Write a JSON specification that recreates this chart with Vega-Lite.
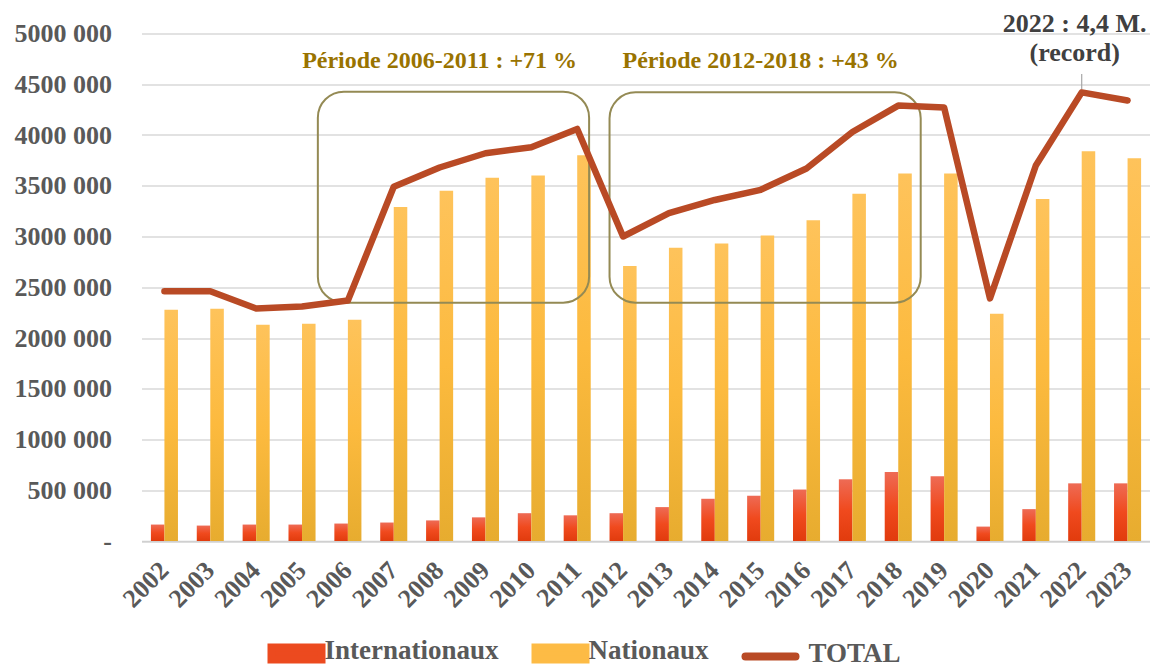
{
  "$schema": "https://vega.github.io/schema/vega-lite/v6.json",
  "width": 1009,
  "height": 507.5,
  "autosize": {"type": "none"},
  "padding": {"left": 141.5, "top": 33.5, "right": 0, "bottom": 125},
  "background": "white",
  "config": {
    "view": {"stroke": null},
    "font": "Liberation Serif"
  },
  "datasets": {
    "trafic": [
      {"annee": "2002", "serie": "Internationaux", "valeur": 162000},
      {"annee": "2003", "serie": "Internationaux", "valeur": 152000},
      {"annee": "2004", "serie": "Internationaux", "valeur": 162000},
      {"annee": "2005", "serie": "Internationaux", "valeur": 162000},
      {"annee": "2006", "serie": "Internationaux", "valeur": 172000},
      {"annee": "2007", "serie": "Internationaux", "valeur": 182000},
      {"annee": "2008", "serie": "Internationaux", "valeur": 203000},
      {"annee": "2009", "serie": "Internationaux", "valeur": 233000},
      {"annee": "2010", "serie": "Internationaux", "valeur": 274000},
      {"annee": "2011", "serie": "Internationaux", "valeur": 253000},
      {"annee": "2012", "serie": "Internationaux", "valeur": 274000},
      {"annee": "2013", "serie": "Internationaux", "valeur": 334000},
      {"annee": "2014", "serie": "Internationaux", "valeur": 416000},
      {"annee": "2015", "serie": "Internationaux", "valeur": 446000},
      {"annee": "2016", "serie": "Internationaux", "valeur": 507000},
      {"annee": "2017", "serie": "Internationaux", "valeur": 608000},
      {"annee": "2018", "serie": "Internationaux", "valeur": 679000},
      {"annee": "2019", "serie": "Internationaux", "valeur": 639000},
      {"annee": "2020", "serie": "Internationaux", "valeur": 142000},
      {"annee": "2021", "serie": "Internationaux", "valeur": 314000},
      {"annee": "2022", "serie": "Internationaux", "valeur": 568000},
      {"annee": "2023", "serie": "Internationaux", "valeur": 568000},
      {"annee": "2002", "serie": "Nationaux", "valeur": 2278000},
      {"annee": "2003", "serie": "Nationaux", "valeur": 2288000},
      {"annee": "2004", "serie": "Nationaux", "valeur": 2130000},
      {"annee": "2005", "serie": "Nationaux", "valeur": 2140000},
      {"annee": "2006", "serie": "Nationaux", "valeur": 2180000},
      {"annee": "2007", "serie": "Nationaux", "valeur": 3290000},
      {"annee": "2008", "serie": "Nationaux", "valeur": 3450000},
      {"annee": "2009", "serie": "Nationaux", "valeur": 3580000},
      {"annee": "2010", "serie": "Nationaux", "valeur": 3600000},
      {"annee": "2011", "serie": "Nationaux", "valeur": 3800000},
      {"annee": "2012", "serie": "Nationaux", "valeur": 2710000},
      {"annee": "2013", "serie": "Nationaux", "valeur": 2890000},
      {"annee": "2014", "serie": "Nationaux", "valeur": 2930000},
      {"annee": "2015", "serie": "Nationaux", "valeur": 3010000},
      {"annee": "2016", "serie": "Nationaux", "valeur": 3160000},
      {"annee": "2017", "serie": "Nationaux", "valeur": 3420000},
      {"annee": "2018", "serie": "Nationaux", "valeur": 3620000},
      {"annee": "2019", "serie": "Nationaux", "valeur": 3620000},
      {"annee": "2020", "serie": "Nationaux", "valeur": 2240000},
      {"annee": "2021", "serie": "Nationaux", "valeur": 3370000},
      {"annee": "2022", "serie": "Nationaux", "valeur": 3840000},
      {"annee": "2023", "serie": "Nationaux", "valeur": 3770000},
      {"annee": "2002", "serie": "TOTAL", "valeur": 2460000},
      {"annee": "2003", "serie": "TOTAL", "valeur": 2460000},
      {"annee": "2004", "serie": "TOTAL", "valeur": 2290000},
      {"annee": "2005", "serie": "TOTAL", "valeur": 2310000},
      {"annee": "2006", "serie": "TOTAL", "valeur": 2370000},
      {"annee": "2007", "serie": "TOTAL", "valeur": 3490000},
      {"annee": "2008", "serie": "TOTAL", "valeur": 3680000},
      {"annee": "2009", "serie": "TOTAL", "valeur": 3820000},
      {"annee": "2010", "serie": "TOTAL", "valeur": 3880000},
      {"annee": "2011", "serie": "TOTAL", "valeur": 4060000},
      {"annee": "2012", "serie": "TOTAL", "valeur": 3000000},
      {"annee": "2013", "serie": "TOTAL", "valeur": 3230000},
      {"annee": "2014", "serie": "TOTAL", "valeur": 3360000},
      {"annee": "2015", "serie": "TOTAL", "valeur": 3460000},
      {"annee": "2016", "serie": "TOTAL", "valeur": 3670000},
      {"annee": "2017", "serie": "TOTAL", "valeur": 4030000},
      {"annee": "2018", "serie": "TOTAL", "valeur": 4290000},
      {"annee": "2019", "serie": "TOTAL", "valeur": 4270000},
      {"annee": "2020", "serie": "TOTAL", "valeur": 2390000},
      {"annee": "2021", "serie": "TOTAL", "valeur": 3700000},
      {"annee": "2022", "serie": "TOTAL", "valeur": 4420000},
      {"annee": "2023", "serie": "TOTAL", "valeur": 4340000}
    ],
    "cadres": [
      {"periode": "2006-2011", "debut": "2006", "fin": "2011", "bas": 2348000, "haut": 4427000},
      {"periode": "2012-2018", "debut": "2012", "fin": "2018", "bas": 2348000, "haut": 4420000}
    ],
    "notes": [
      {"type": "periode", "annee": "2008", "y": 4665000, "texte": "Période 2006-2011 : +71 %"},
      {"type": "periode", "annee": "2015", "y": 4665000, "texte": "Période 2012-2018 : +43 %"},
      {"type": "record", "annee": "2022", "y": 5018000, "y_haut": 4600000, "y_bas": 4450000, "texte": "2022 : 4,4 M.\n(record)"}
    ]
  },
  "layer": [
    {
      "data": {"name": "trafic"},
      "transform": [{"filter": "datum.serie !== 'TOTAL'"}],
      "mark": {"type": "bar"},
      "encoding": {
        "x": {
          "field": "annee",
          "type": "nominal",
          "scale": {"paddingInner": 0.41, "paddingOuter": 0.205},
          "axis": {
            "title": null,
            "labelAngle": -45,
            "labelAlign": "right",
            "labelBaseline": "middle",
            "labelFont": "Liberation Serif",
            "labelFontWeight": "bold",
            "labelFontSize": 26,
            "labelColor": "#595959",
            "ticks": false,
            "domainColor": "#D0D0D0",
            "domainWidth": 1.5,
            "labelPadding": 25
          }
        },
        "xOffset": {"field": "serie", "scale": {"domain": ["Internationaux", "Nationaux"]}},
        "y": {
          "field": "valeur",
          "type": "quantitative",
          "scale": {"domain": [0, 5000000]},
          "axis": {
            "title": null,
            "values": [0, 500000, 1000000, 1500000, 2000000, 2500000, 3000000, 3500000, 4000000, 4500000, 5000000],
            "labelExpr": "datum.value === 0 ? '-' : format(datum.value / 1000, 'd') + ' 000'",
            "labelFont": "Liberation Serif",
            "labelFontWeight": "bold",
            "labelFontSize": 26,
            "labelColor": "#595959",
            "labelPadding": 30,
            "ticks": false,
            "domain": false,
            "grid": true,
            "gridColor": "#D9D9D9",
            "gridWidth": 1.3,
            "encode": {
              "labels": {
                "update": {
                  "dx": {"signal": "datum.value === 0 ? -13 : 0"}
                }
              }
            }
          }
        },
        "fill": {
          "condition": {
            "test": "datum.serie === 'Internationaux'",
            "value": {
              "gradient": "linear", "x1": 0, "y1": 0, "x2": 0, "y2": 1,
              "stops": [
                {"offset": 0, "color": "#EE6B55"},
                {"offset": 0.5, "color": "#F04A1E"},
                {"offset": 1, "color": "#E13B0D"}
              ]
            }
          },
          "value": {
            "gradient": "linear", "x1": 0, "y1": 0, "x2": 0, "y2": 1,
            "stops": [
              {"offset": 0, "color": "#FEC35B"},
              {"offset": 0.5, "color": "#FCBA3E"},
              {"offset": 1, "color": "#E7AC2F"}
            ]
          }
        }
      }
    },
    {
      "data": {"name": "cadres"},
      "transform": [{"filter": "datum.periode === '2006-2011'"}],
      "mark": {"type": "rect", "fill": "transparent", "stroke": "#948A54", "strokeWidth": 2, "cornerRadius": 26},
      "encoding": {
        "x": {"field": "debut", "type": "nominal", "bandPosition": -0.61},
        "x2": {"field": "fin", "bandPosition": 0.94},
        "y": {"field": "haut", "type": "quantitative"},
        "y2": {"field": "bas"}
      }
    },
    {
      "data": {"name": "cadres"},
      "transform": [{"filter": "datum.periode === '2012-2018'"}],
      "mark": {"type": "rect", "fill": "transparent", "stroke": "#948A54", "strokeWidth": 2, "cornerRadius": 26},
      "encoding": {
        "x": {"field": "debut", "type": "nominal", "bandPosition": 0},
        "x2": {"field": "fin", "bandPosition": 1.33},
        "y": {"field": "haut", "type": "quantitative"},
        "y2": {"field": "bas"}
      }
    },
    {
      "data": {"name": "trafic"},
      "transform": [{"filter": "datum.serie === 'TOTAL'"}],
      "mark": {"type": "line", "strokeWidth": 6.5, "strokeJoin": "round", "strokeCap": "round"},
      "encoding": {
        "x": {"field": "annee", "type": "nominal"},
        "y": {"field": "valeur", "type": "quantitative"},
        "color": {
          "field": "serie",
          "type": "nominal",
          "scale": {"domain": ["Internationaux", "Nationaux", "TOTAL"], "range": ["#EC4A1F", "#FDBB45", "#B94A25"]},
          "legend": {
            "title": null,
            "orient": "none",
            "legendX": 126,
            "legendY": 591,
            "direction": "horizontal",
            "padding": 0,
            "symbolSize": 2500,
            "symbolStrokeWidth": 0,
            "labelFont": "Liberation Serif",
            "labelFontWeight": "bold",
            "labelFontSize": 27,
            "labelColor": "#595959",
            "labelOffset": -1,
            "columnPadding": 20,
            "labelLimit": 400,
            "encode": {
              "symbols": {
                "update": {
                  "shape": {"signal": "datum.value === 'TOTAL' ? 'M-1,0H1' : 'M-1,-0.24H1V0.24H-1Z'"},
                  "fill": {"signal": "datum.value === 'Internationaux' ? '#EC4A1F' : (datum.value === 'Nationaux' ? '#FDBB45' : 'transparent')"},
                  "stroke": {"signal": "datum.value === 'TOTAL' ? '#B94A25' : 'transparent'"},
                  "strokeWidth": {"value": 8},
                  "strokeCap": {"value": "round"},
                  "opacity": {"value": 1}
                }
              },
              "labels": {
                "update": {
                  "dy": {"value": -3},
                  "dx": {"signal": "datum.value === 'TOTAL' ? 10 : 0"}
                }
              }
            }
          }
        }
      }
    },
    {
      "data": {"name": "notes"},
      "transform": [{"filter": "datum.type === 'record'"}],
      "mark": {"type": "rule", "color": "#A6A6A6", "strokeWidth": 1.2},
      "encoding": {
        "x": {"field": "annee", "type": "nominal"},
        "y": {"field": "y_bas", "type": "quantitative"},
        "y2": {"field": "y_haut"}
      }
    },
    {
      "data": {"name": "notes"},
      "transform": [{"filter": "datum.type === 'periode'"}],
      "mark": {"type": "text", "font": "Liberation Serif", "fontWeight": "bold", "fontSize": 24, "color": "#997300", "baseline": "alphabetic", "align": "center"},
      "encoding": {
        "x": {"field": "annee", "type": "nominal"},
        "y": {"field": "y", "type": "quantitative"},
        "text": {"field": "texte"}
      }
    },
    {
      "data": {"name": "notes"},
      "transform": [{"filter": "datum.type === 'record'"}],
      "mark": {"type": "text", "font": "Liberation Serif", "fontWeight": "bold", "fontSize": 26, "color": "#404040", "baseline": "alphabetic", "align": "center", "lineBreak": "\n", "lineHeight": 29.5, "dx": -7},
      "encoding": {
        "x": {"field": "annee", "type": "nominal"},
        "y": {"field": "y", "type": "quantitative"},
        "text": {"field": "texte"}
      }
    }
  ]
}
